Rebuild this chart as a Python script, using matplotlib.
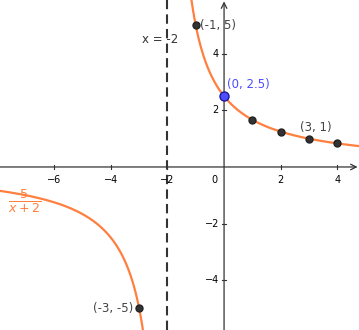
import numpy as np
import matplotlib
matplotlib.use("Agg")
import matplotlib.pyplot as plt

# data
pts_x = [-3, -1, 1, 2, 3, 4]
pts_y = [-5, 5, 5/3, 1.25, 1, 5/6]
hl_x, hl_y = [0], [2.5]
asym_x = -2
xticks = [-6, -4, -2, 2, 4]
yticks = [-4, -2, 2, 4]
labels = [("(-1, 5)", -0.85, 5.0, "left"), ("(3, 1)", 2.68, 1.4, "left"),
          ("(-3, -5)", -3.2, -5.0, "right")]

orange = "#FF7F3F"
fig = plt.figure(figsize=(3.59, 3.30), dpi=100)
ax = fig.add_axes([0, 0, 1, 1])
ax.set_xlim(-7.92, 4.77)
ax.set_ylim(-5.76, 5.9)

# axes
ax.annotate("", xy=(4.72, 0), xytext=(-7.92, 0),
            arrowprops=dict(arrowstyle="->", color="#333333", lw=0.9, shrinkA=0, shrinkB=0))
ax.annotate("", xy=(0, 5.85), xytext=(0, -5.76),
            arrowprops=dict(arrowstyle="->", color="#333333", lw=0.9, shrinkA=0, shrinkB=0))
for s in ax.spines.values():
    s.set_visible(False)
ax.set_xticks([]); ax.set_yticks([])
for t in xticks:
    ax.plot([t, t], [-0.07, 0.07], color="#333333", lw=0.8)
    ax.text(t, -0.28, f"\u2212{abs(t)}" if t < 0 else str(t), ha="center", va="top", fontsize=7, color="black")
for t in yticks:
    ax.plot([-0.07, 0.07], [t, t], color="#333333", lw=0.8)
    ax.text(-0.18, t, f"\u2212{abs(t)}" if t < 0 else str(t), ha="right", va="center", fontsize=7, color="black")
ax.text(-0.22, -0.28, "0", ha="right", va="top", fontsize=7, color="black")

# asymptote
ax.axvline(asym_x, color="#333333", lw=1.5, dashes=(4.5, 2.5))
ax.text(-2.25, 4.5, "x = -2", ha="center", va="center", fontsize=8.5, color="#333333")

# curve
x1 = np.linspace(-7.92, -2.01, 400)
x2 = np.linspace(-1.99, 4.77, 400)
for xx in (x1, x2):
    ax.plot(xx, 5 / (xx + 2), color=orange, lw=1.6)
ax.text(-7.05, -1.2, r"$\frac{5}{x+2}$", fontsize=13, color=orange, ha="center", va="center")

# points
ax.plot(pts_x, pts_y, "o", ms=5, color="#333333", mec="#222222", zorder=5)
ax.plot(hl_x, hl_y, "o", ms=6.5, color="#4D4DFF", mec="#1a1a99", zorder=6)
for txt, x, y, ha in labels:
    ax.text(x, y, txt, ha=ha, va="center", fontsize=8.5, color="#444444")
ax.text(0.1, 2.9, "(0, 2.5)", ha="left", va="center", fontsize=8.5, color="#4D4DFF")

fig.savefig("out.png", dpi=100)
